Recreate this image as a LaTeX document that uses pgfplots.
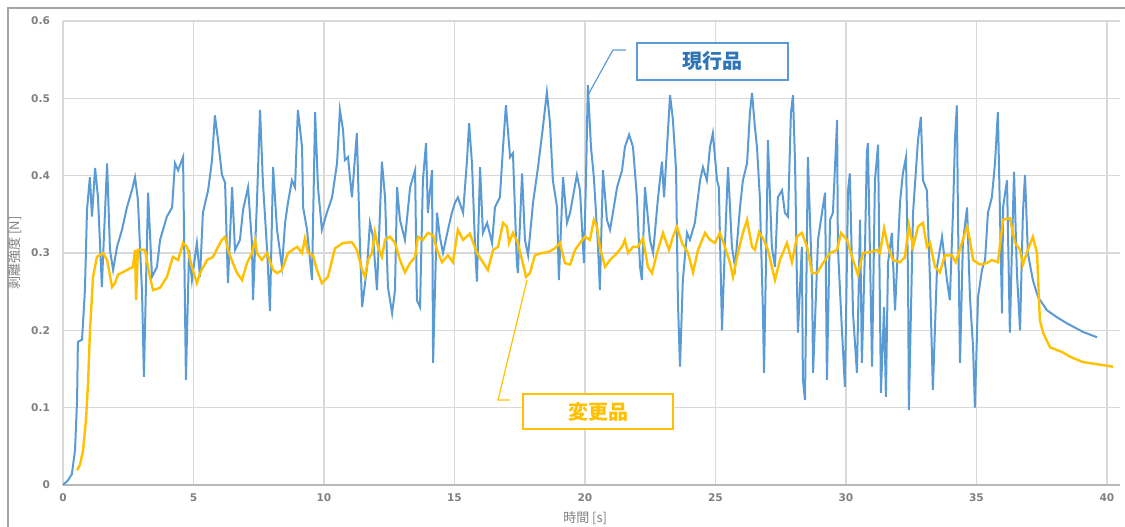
\documentclass[border=0pt]{standalone}
\usepackage{fontspec}
\usepackage{pgfplots}
\pgfplotsset{compat=1.18}
\setmainfont{DejaVu Sans}
\newfontfamily\cjk{Noto Sans CJK JP}

\definecolor{serblue}{HTML}{5B9BD5}
\definecolor{serorange}{HTML}{FFC000}
\definecolor{boxblue}{HTML}{2E75B6}
\definecolor{gridgray}{HTML}{D9D9D9}
\definecolor{tickgray}{HTML}{808080}
\definecolor{framegray}{HTML}{A6A6A6}

\begin{document}
\begin{tikzpicture}
\useasboundingbox (0,0) rectangle (562.5bp,263.5bp);
% outer chart frame (left and top only, the rest is cropped)
\draw[framegray, line width=1bp] (4bp,0) -- (4bp,259.5bp) -- (562.5bp,259.5bp);

\begin{axis}[
  at={(31.5bp,21bp)}, anchor=south west,
  scale only axis, width=528.5bp, height=232bp,
  xmin=0, xmax=40.5, ymin=0, ymax=0.6,
  xtick={0,5,...,40}, ytick={0,0.1,...,0.6},
  yticklabels={0,0.1,0.2,0.3,0.4,0.5,0.6},
  grid=major,
  major grid style={gridgray, line width=0.75bp},
  axis x line*=bottom, axis y line*=left,
  x axis line style={draw=gray!55, line width=0.8bp},
  y axis line style={draw=none},
  tick style={draw=none},
  /pgf/number format/assume math mode=true,
  ticklabel style={font=\fontsize{5.3bp}{6bp}\selectfont\bfseries, text=tickgray},
  xticklabel style={yshift=-1bp},
  yticklabel style={xshift=-3bp},
  xlabel={\cjk 時間 [s]}, ylabel={\cjk 剥離強度 [N]},
  label style={font=\fontsize{6.5bp}{7bp}\selectfont, text=tickgray},
  xlabel style={at={(axis description cs:0.494,-0.071)}, anchor=center},
  ylabel style={at={(axis description cs:-0.0454,0.5)}, anchor=center},
  clip=false,
]

% 現行品
\addplot[serblue, line width=1bp, mark=none] coordinates {
(0,0) (0.19,0.006) (0.34,0.014) (0.46,0.045) (0.54,0.110) (0.57,0.185) (0.73,0.188)
(0.84,0.252) (0.92,0.356) (1.03,0.398) (1.11,0.347) (1.23,0.410) (1.34,0.372)
(1.49,0.256) (1.53,0.291) (1.69,0.416) (1.80,0.304) (1.92,0.278) (2.07,0.308)
(2.26,0.330) (2.45,0.359) (2.64,0.381) (2.76,0.398) (2.87,0.369) (3.03,0.248)
(3.10,0.140) (3.26,0.378) (3.41,0.269) (3.60,0.282) (3.72,0.317) (3.98,0.347)
(4.18,0.359) (4.29,0.416) (4.41,0.407) (4.60,0.424) (4.71,0.136) (4.83,0.304)
(4.94,0.265) (5.13,0.313) (5.25,0.269) (5.36,0.352) (5.56,0.381) (5.71,0.420)
(5.82,0.478) (5.94,0.446) (6.09,0.401) (6.21,0.391) (6.32,0.261) (6.48,0.385)
(6.59,0.304) (6.78,0.317) (6.90,0.356) (7.09,0.385) (7.24,0.313) (7.28,0.239)
(7.43,0.365) (7.55,0.485) (7.66,0.391) (7.82,0.304) (7.93,0.225) (8.05,0.411)
(8.20,0.330) (8.39,0.282) (8.51,0.339) (8.62,0.365) (8.77,0.394) (8.89,0.385)
(9.00,0.485) (9.16,0.437) (9.20,0.359) (9.35,0.330) (9.54,0.265) (9.66,0.482)
(9.77,0.385) (9.92,0.330) (10.11,0.352) (10.31,0.372) (10.50,0.416) (10.61,0.485)
(10.73,0.459) (10.80,0.420) (10.92,0.424) (11.07,0.372) (11.26,0.455) (11.38,0.308)
(11.46,0.230) (11.65,0.282) (11.76,0.339) (11.88,0.321) (12.03,0.252) (12.22,0.418)
(12.34,0.372) (12.45,0.256) (12.61,0.222) (12.72,0.252) (12.80,0.385) (12.91,0.343)
(13.10,0.317) (13.30,0.385) (13.49,0.407) (13.56,0.239) (13.68,0.230) (13.79,0.394)
(13.91,0.442) (13.98,0.352) (14.14,0.407) (14.18,0.158) (14.33,0.352) (14.44,0.321)
(14.56,0.300) (14.75,0.330) (14.90,0.352) (15.02,0.365) (15.13,0.372) (15.33,0.352)
(15.48,0.420) (15.56,0.468) (15.67,0.416) (15.79,0.308) (15.86,0.263) (15.98,0.411)
(16.09,0.326) (16.25,0.339) (16.44,0.313) (16.55,0.359) (16.74,0.372) (16.86,0.437)
(16.97,0.491) (17.13,0.424) (17.24,0.429) (17.39,0.287) (17.43,0.274) (17.59,0.403)
(17.70,0.317) (17.82,0.297) (18.01,0.365) (18.20,0.411) (18.39,0.463) (18.54,0.508)
(18.66,0.468) (18.77,0.394) (18.93,0.359) (19.00,0.265) (19.16,0.398) (19.31,0.339)
(19.43,0.352) (19.69,0.401) (19.81,0.381) (19.96,0.287) (20.04,0.398) (20.11,0.517)
(20.23,0.437) (20.34,0.398) (20.50,0.308) (20.57,0.252) (20.69,0.407) (20.84,0.343)
(20.96,0.330) (21.07,0.352) (21.23,0.385) (21.42,0.407) (21.53,0.437) (21.69,0.453)
(21.84,0.437) (21.99,0.372) (22.11,0.282) (22.18,0.265) (22.30,0.385) (22.49,0.317)
(22.61,0.300) (22.80,0.372) (22.95,0.418) (23.03,0.372) (23.26,0.504) (23.37,0.472)
(23.49,0.407) (23.56,0.239) (23.64,0.153) (23.75,0.265) (23.91,0.326) (24.02,0.317)
(24.21,0.339) (24.41,0.394) (24.52,0.411) (24.67,0.394) (24.79,0.437) (24.90,0.455)
(25.06,0.394) (25.13,0.385) (25.25,0.200) (25.36,0.308) (25.48,0.411) (25.63,0.308)
(25.75,0.282) (25.94,0.359) (26.05,0.394) (26.21,0.416) (26.32,0.481) (26.40,0.507)
(26.51,0.463) (26.59,0.437) (26.70,0.372) (26.82,0.222) (26.86,0.145) (26.97,0.352)
(27.01,0.446) (27.16,0.308) (27.28,0.282) (27.39,0.372) (27.55,0.381) (27.66,0.352)
(27.78,0.347) (27.89,0.481) (27.97,0.504) (28.05,0.416) (28.12,0.265) (28.16,0.197)
(28.31,0.308) (28.35,0.136) (28.43,0.110) (28.54,0.424) (28.70,0.265) (28.74,0.145)
(28.93,0.317) (29.08,0.352) (29.20,0.378) (29.27,0.136) (29.39,0.343) (29.50,0.352)
(29.66,0.472) (29.69,0.308) (29.85,0.197) (29.96,0.127) (30.08,0.381) (30.15,0.403)
(30.27,0.222) (30.42,0.145) (30.54,0.343) (30.61,0.158) (30.73,0.308) (30.80,0.429)
(30.84,0.442) (31.00,0.153) (31.11,0.394) (31.23,0.440) (31.34,0.119) (31.46,0.230)
(31.53,0.114) (31.61,0.287) (31.76,0.326) (31.88,0.226) (32.07,0.365) (32.18,0.403)
(32.30,0.424) (32.38,0.265) (32.41,0.097) (32.57,0.352) (32.76,0.446) (32.87,0.476)
(32.95,0.394) (33.10,0.381) (33.22,0.265) (33.33,0.123) (33.49,0.282) (33.68,0.321)
(33.87,0.265) (33.98,0.239) (34.10,0.352) (34.18,0.450) (34.25,0.491) (34.29,0.352)
(34.37,0.158) (34.48,0.313) (34.64,0.359) (34.75,0.243) (34.87,0.178) (34.94,0.100)
(35.06,0.243) (35.21,0.278) (35.33,0.291) (35.44,0.352) (35.59,0.372) (35.71,0.416)
(35.82,0.482) (35.90,0.352) (35.98,0.222) (36.02,0.359) (36.17,0.394) (36.28,0.197)
(36.36,0.308) (36.44,0.405) (36.55,0.274) (36.67,0.200) (36.78,0.352) (36.86,0.401)
(36.97,0.300) (37.16,0.265) (37.36,0.243) (37.70,0.226) (38.08,0.217) (38.47,0.209)
(39.08,0.198) (39.62,0.191)
};

% 変更品
\addplot[serorange, line width=1.2bp, mark=none] coordinates {
(0.54,0.019) (0.65,0.026) (0.77,0.045) (0.88,0.084) (0.96,0.132) (1.03,0.197)
(1.15,0.269) (1.30,0.295) (1.53,0.300) (1.69,0.291) (1.88,0.256) (1.99,0.261)
(2.11,0.272) (2.45,0.278) (2.68,0.282) (2.76,0.304) (2.80,0.239) (2.87,0.304)
(3.14,0.304) (3.33,0.269) (3.45,0.252) (3.72,0.255) (3.98,0.269) (4.21,0.295)
(4.41,0.291) (4.60,0.313) (4.75,0.308) (4.94,0.282) (5.13,0.261) (5.25,0.274)
(5.52,0.291) (5.75,0.295) (5.94,0.308) (6.09,0.317) (6.21,0.321) (6.32,0.304)
(6.51,0.287) (6.67,0.274) (6.86,0.265) (7.05,0.287) (7.24,0.300) (7.36,0.317)
(7.43,0.300) (7.62,0.291) (7.82,0.300) (8.05,0.278) (8.20,0.274) (8.39,0.278)
(8.62,0.300) (8.97,0.308) (9.16,0.300) (9.27,0.319) (9.39,0.300) (9.58,0.297)
(9.73,0.278) (9.92,0.261) (10.15,0.269) (10.42,0.306) (10.73,0.313) (11.07,0.314)
(11.26,0.304) (11.46,0.278) (11.57,0.269) (11.69,0.291) (11.84,0.300) (11.95,0.327)
(12.07,0.308) (12.22,0.295) (12.34,0.317) (12.53,0.321) (12.72,0.313) (12.91,0.291)
(13.10,0.275) (13.30,0.287) (13.49,0.295) (13.60,0.321) (13.79,0.317) (13.98,0.326)
(14.18,0.323) (14.33,0.304) (14.52,0.288) (14.75,0.297) (14.94,0.288) (15.13,0.330)
(15.33,0.317) (15.59,0.325) (15.86,0.300) (16.09,0.288) (16.28,0.278) (16.48,0.304)
(16.67,0.308) (16.86,0.339) (17.01,0.334) (17.09,0.313) (17.24,0.326) (17.43,0.313)
(17.59,0.291) (17.74,0.269) (17.89,0.274) (18.08,0.297) (18.35,0.300) (18.58,0.301)
(18.85,0.306) (19.04,0.313) (19.23,0.287) (19.43,0.285) (19.62,0.304) (19.81,0.313)
(20.00,0.321) (20.19,0.317) (20.34,0.343) (20.46,0.334) (20.57,0.308) (20.77,0.282)
(20.96,0.291) (21.23,0.300) (21.42,0.308) (21.53,0.317) (21.65,0.300) (21.84,0.308)
(22.03,0.308) (22.22,0.319) (22.41,0.282) (22.57,0.274) (22.76,0.300) (22.99,0.326)
(23.22,0.304) (23.37,0.321) (23.52,0.334) (23.72,0.313) (23.95,0.300) (24.14,0.275)
(24.33,0.304) (24.60,0.326) (24.79,0.317) (24.98,0.313) (25.17,0.326) (25.36,0.308)
(25.56,0.287) (25.67,0.269) (25.86,0.300) (26.05,0.326) (26.21,0.343) (26.40,0.308)
(26.51,0.304) (26.67,0.327) (26.82,0.319) (27.01,0.304) (27.16,0.282) (27.28,0.265)
(27.47,0.291) (27.74,0.313) (27.93,0.288) (28.12,0.321) (28.31,0.326) (28.51,0.308)
(28.70,0.274) (28.89,0.274) (29.12,0.287) (29.39,0.300) (29.66,0.304) (29.81,0.326)
(30.04,0.317) (30.27,0.291) (30.46,0.272) (30.65,0.300) (30.92,0.301) (31.19,0.304)
(31.30,0.300) (31.46,0.332) (31.61,0.308) (31.80,0.291) (32.07,0.288) (32.26,0.295)
(32.41,0.336) (32.57,0.308) (32.76,0.334) (32.95,0.339) (33.10,0.308) (33.22,0.313)
(33.41,0.282) (33.60,0.275) (33.79,0.297) (34.06,0.297) (34.21,0.288) (34.44,0.313)
(34.64,0.334) (34.75,0.317) (34.87,0.291) (35.13,0.285) (35.40,0.287) (35.59,0.291)
(35.82,0.288) (36.02,0.343) (36.28,0.345) (36.48,0.313) (36.67,0.304) (36.78,0.285)
(36.97,0.304) (37.16,0.321) (37.32,0.300) (37.43,0.213) (37.55,0.197) (37.82,0.178)
(38.28,0.172) (38.58,0.166) (39.08,0.159) (40.23,0.153)
};

% callouts
\draw[serblue, line width=0.6bp] (axis cs:20.11,0.504) -- (axis cs:21.07,0.5625) -- (axis cs:21.57,0.5625);
\node[draw=serblue, line width=0.8bp, fill=white, minimum width=75.5bp, minimum height=18.5bp,
      inner sep=0pt, text=boxblue, font=\cjk\fontsize{10bp}{11bp}\selectfont\bfseries]
  at (axis cs:24.89,0.5477) {現行品};
\draw[serorange, line width=0.6bp] (axis cs:17.78,0.265) -- (axis cs:16.67,0.110) -- (axis cs:17.13,0.110);
\node[draw=serorange, line width=0.8bp, fill=white, minimum width=75bp, minimum height=17.5bp,
      inner sep=0pt, text=serorange, font=\cjk\fontsize{10bp}{11bp}\selectfont\bfseries]
  at (axis cs:20.50,0.095) {変更品};
\end{axis}
\end{tikzpicture}
\end{document}
